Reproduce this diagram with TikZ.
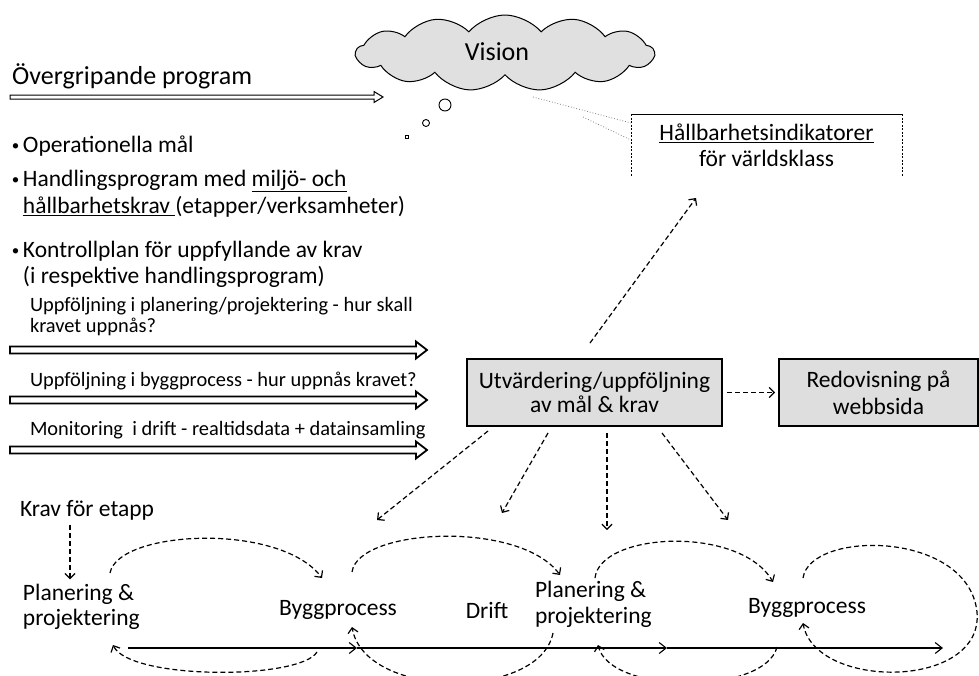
\documentclass[tikz,border=0pt]{standalone}
\usepackage{fontspec}
\setmainfont{Carlito}
\usetikzlibrary{arrows.meta,shapes.symbols,calc}
\begin{document}
\begin{tikzpicture}[x=1pt,y=-1pt,
  txt/.style={inner sep=0pt, outer sep=0pt, font=\fontsize{23.5}{26}\selectfont},
  small/.style={inner sep=0pt, outer sep=0pt, font=\fontsize{20.4}{21}\selectfont},
  dasharrow/.style={line width=1.2pt, dash pattern=on 5pt off 3pt, -{Straight Barb[length=5pt,width=10pt]}},
  hollow/.style={draw=black, line width=1.8pt, fill=white, line join=miter},
  stip/.style={draw=black, line width=1.1pt, fill=black!13},
  mainarrow/.style={line width=1.1pt, -{Straight Barb[length=7pt,width=11pt]}},
  faint/.style={gray, line width=0.8pt, dotted},
]
\useasboundingbox (0,0) rectangle (979,675);
\fill[white] (0,0) rectangle (979,675);

% cloud
\node[cloud, cloud puffs=13, cloud puff arc=100, cloud ignores aspect, draw, line width=1pt,
      fill=black!12, minimum width=298pt, minimum height=76pt, inner sep=0pt] (cloud) at (505,53) {};
\node[inner sep=0pt, font=\fontsize{26}{28}\selectfont] (vision) at (497,52) {Vision};
\node[circle, draw, line width=0.9pt, minimum size=12pt, inner sep=0pt] (t1) at (445,105) {};
\node[circle, draw, line width=0.9pt, minimum size=7pt, inner sep=0pt] (t2) at (426,123) {};
\node[draw, line width=0.8pt, minimum size=3.5pt, inner sep=0pt] (t3) at (407,137) {};

% Hallbarhetsindikatorer callout
\node[txt, align=center, minimum width=271pt, minimum height=63pt] (hall) at (766.5,145.5)
  {\underline{Hållbarhetsindikatorer}\\för världsklass};
\draw[line width=0.8pt] (hall.north west) -- (hall.north east);
\draw[line width=0.6pt, dash pattern=on 2pt off 1.5pt] (hall.north west) -- (hall.south west);
\draw[line width=0.6pt, dash pattern=on 2pt off 1.5pt] (hall.north east) -- (hall.south east);
\coordinate (cp1) at (533,97);
\coordinate (cp2) at (583,117);
\draw[faint] (cp1) -- ($(hall.north west)+(0,9)$);
\draw[faint] (cp2) -- ($(hall.north west)+(0,26)$);

% left texts
\node[inner sep=0pt, anchor=west, font=\fontsize{26}{28}\selectfont] (over) at (12,76) {Övergripande program};
\draw[draw=black, line width=1pt, fill=white, line join=miter]
  (10,95) -- (374,95) -- (374,91.5) -- (383,97) -- (374,102.5) -- (374,99) -- (10,99) -- cycle;

\newcommand\bul{\makebox[11pt][l]{\fontsize{15}{15}\selectfont\raisebox{1.5pt}{•}}}
\node[txt, anchor=west] (op) at (12,146) {\bul Operationella mål};
\node[txt, anchor=west] (hp1) at (12,181) {\bul Handlingsprogram med \underline{miljö- och}};
\node[txt, anchor=west] (hp2) at (23,207) {\underline{hållbarhetskrav\ }(etapper/verksamheter)};
\node[txt, anchor=west] (kp1) at (12,251) {\bul Kontrollplan för uppfyllande av krav};
\node[txt, anchor=west] (kp2) at (23,277) {(i respektive handlingsprogram)};

\node[small, anchor=west] (u1) at (30,306) {Uppföljning i planering/projektering - hur skall};
\node[small, anchor=west] (u1b) at (30,327) {kravet uppnås?};
\draw[hollow] (10,346.5) -- (416,346.5) -- (416,341.5) -- (427,350) -- (416,358.5) -- (416,353.5) -- (10,353.5) -- cycle;
\node[small, anchor=west] (u2) at (30,381) {Uppföljning i byggprocess - hur uppnås kravet?};
\draw[hollow] (10,396.5) -- (416,396.5) -- (416,391.5) -- (427,400) -- (416,408.5) -- (416,403.5) -- (10,403.5) -- cycle;
\node[small, anchor=west] (u3) at (30,430) {Monitoring\ \ i drift - realtidsdata + datainsamling};
\draw[hollow] (10,446.5) -- (416,446.5) -- (416,441.5) -- (427,450) -- (416,458.5) -- (416,453.5) -- (10,453.5) -- cycle;

% boxes
\node[stip, txt, align=center, minimum width=255pt, minimum height=67pt, font=\fontsize{23.5}{24.5}\selectfont]
  (utv) at (594.5,392.5) {Utvärdering/uppföljning\\av mål \& krav};
\node[stip, txt, align=center, minimum width=199pt, minimum height=67pt, font=\fontsize{23.5}{27}\selectfont]
  (red) at (878.5,392.5) {Redovisning på\\webbsida};
\draw[dasharrow] ($(utv.east)+(5,0)$) -- ($(red.west)+(-4,0)$);
\draw[dasharrow] ($(utv.north)+(-4.5,-16)$) -- ($(hall.south)+(-70.5,21)$);

% bottom labels
\node[txt, anchor=west] (krav) at (20,510) {Krav för etapp};
\node[txt, anchor=west, align=left, font=\fontsize{23.5}{25}\selectfont] (pp1) at (23,607) {Planering \&\\projektering};
\node[txt] (bp1) at (338,610) {Byggprocess};
\node[txt] (drift) at (487,610) {Drift};
\node[txt, anchor=west, align=left, font=\fontsize{23.5}{26}\selectfont] (pp2) at (535,604) {Planering \&\\projektering};
\node[txt] (bp2) at (807,608) {Byggprocess};

\coordinate (d1e) at (377,520);
\coordinate (d2e) at (502,513);
\coordinate (d3e) at (607,530);
\coordinate (d4e) at (728,520);
\draw[dasharrow] ($(utv.south)+(-106.5,5)$) -- (d1e);
\draw[dasharrow] ($(utv.south)+(-46.5,7)$) -- (d2e);
\draw[dasharrow] ($(utv.south)+(12.5,7)$) -- (d3e);
\draw[dasharrow] ($(utv.south)+(67.5,7)$) -- (d4e);

\draw[dasharrow] ($(krav.south west)+(50,5)$) -- ($(pp1.north west)+(47,-5)$);

% main time line
\coordinate (m0) at (128,648);
\coordinate (m1) at (357,648);
\coordinate (m2) at (667,648);
\coordinate (m3) at (943,648);
\draw[mainarrow] (m0) -- (m1);
\draw[mainarrow] (m1) -- (m2);
\draw[mainarrow] (m2) -- (m3);

% cycles
\draw[dasharrow] (110,573) .. controls (118,530) and (280,522) .. (322,578);
\draw[dasharrow] (317,652) .. controls (300,680) and (130,680) .. (113,645);
\draw[dasharrow] (352,572) .. controls (358,528) and (520,520) .. (560,575);
\draw[dasharrow] (553,633) .. controls (540,700) and (365,700) .. (352,627);
\draw[dasharrow] (595,578) .. controls (600,532) and (740,525) .. (773,582);
\draw[dasharrow] (777,647) .. controls (765,695) and (610,695) .. (598,645);
\draw[dasharrow] (803,578) .. controls (810,530) and (968,530) .. (977,612)
                          .. controls (984,690) and (815,690) .. (803,623);
\end{tikzpicture}
\end{document}
